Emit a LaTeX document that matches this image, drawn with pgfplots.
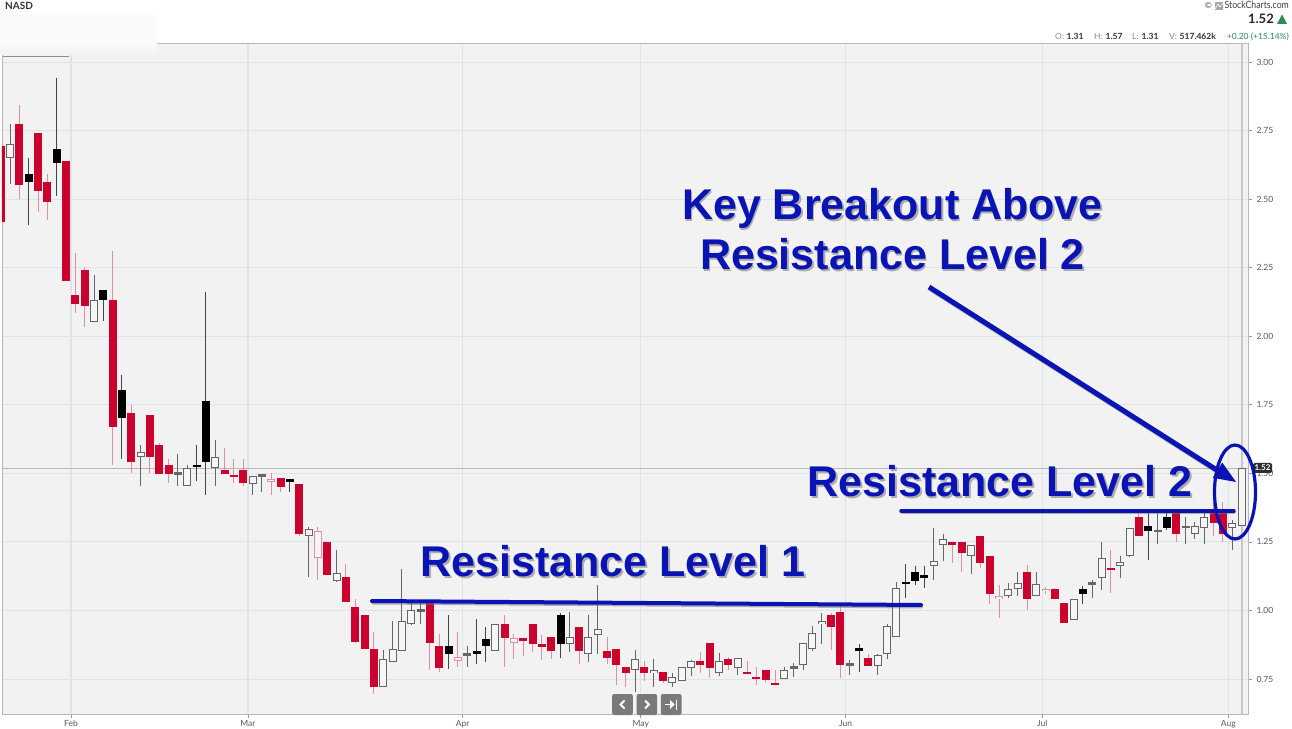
\documentclass[border=0pt]{standalone}
\usepackage{fontspec}
\usepackage{pgfplots}
\usepackage{pgfplotstable}
\pgfplotsset{compat=1.18}
\setmainfont{Lato}
\newfontfamily\ann{Liberation Sans}
\definecolor{bg}{HTML}{F2F2F2}
\definecolor{gridc}{HTML}{DFE3EA}
\definecolor{redb}{HTML}{CC002D}
\definecolor{redw}{HTML}{E88CA0}
\definecolor{blackw}{HTML}{444444}
\definecolor{whitew}{HTML}{666666}
\definecolor{hollow}{HTML}{F6F6F6}
\definecolor{lbl}{HTML}{55596A}
\definecolor{annb}{HTML}{0A14B4}
\definecolor{grn}{HTML}{2E8B57}
\pgfplotstableread{
i low high bot top
0 2.418 2.693 2.418 2.693
2 2.501 2.842 2.551 2.773
4 2.453 2.742 2.529 2.742
5 2.422 2.590 2.490 2.561
7 2.200 2.640 2.200 2.640
8 2.083 2.304 2.119 2.152
9 2.033 2.253 2.109 2.242
12 1.532 2.311 1.669 2.133
14 1.501 1.748 1.540 1.720
16 1.501 1.712 1.560 1.712
17 1.499 1.611 1.499 1.602
18 1.464 1.554 1.496 1.530
24 1.499 1.592 1.499 1.511
25 1.464 1.554 1.490 1.492
26 1.453 1.554 1.464 1.513
30 1.432 1.482 1.449 1.482
32 1.273 1.461 1.279 1.461
35 1.129 1.250 1.131 1.250
37 1.030 1.170 1.030 1.121
38 0.881 1.041 0.885 1.012
39 0.859 0.982 0.859 0.982
40 0.695 0.921 0.722 0.859
46 0.784 1.033 0.881 1.033
47 0.775 0.914 0.791 0.870
54 0.794 0.982 0.900 0.951
56 0.833 0.898 0.891 0.898
57 0.847 0.951 0.876 0.951
58 0.818 0.911 0.871 0.875
59 0.823 0.902 0.851 0.902
62 0.803 0.941 0.851 0.941
65 0.803 0.902 0.826 0.852
66 0.729 0.859 0.800 0.859
67 0.721 0.793 0.772 0.793
69 0.743 0.816 0.772 0.793
71 0.735 0.776 0.741 0.776
75 0.772 0.848 0.802 0.816
76 0.752 0.880 0.791 0.880
78 0.782 0.830 0.802 0.822
80 0.771 0.816 0.771 0.773
81 0.729 0.793 0.751 0.755
82 0.739 0.782 0.746 0.782
83 0.730 0.784 0.730 0.735
89 0.854 0.991 0.940 0.982
90 0.755 1.018 0.802 0.993
93 0.796 0.841 0.796 0.827
102 1.172 1.248 1.242 1.248
103 1.142 1.249 1.210 1.249
105 1.153 1.271 1.172 1.271
106 1.023 1.200 1.059 1.200
110 1.001 1.164 1.040 1.140
113 1.040 1.083 1.040 1.079
114 0.956 1.029 0.956 1.029
119 1.062 1.221 1.150 1.154
122 1.271 1.367 1.271 1.340
126 1.251 1.363 1.278 1.354
130 1.272 1.397 1.320 1.354
131 1.250 1.397 1.278 1.354
}\tblR
\pgfplotstableread{
i low high bot top
3 2.404 2.651 2.562 2.590
6 2.513 2.943 2.631 2.682
11 2.055 2.170 2.131 2.170
13 1.554 1.860 1.700 1.803
21 1.471 1.602 1.523 1.529
22 1.422 2.162 1.540 1.762
31 1.432 1.481 1.470 1.481
48 0.786 0.982 0.841 0.870
51 0.803 0.970 0.841 0.852
52 0.813 0.938 0.870 0.897
60 0.825 0.990 0.876 0.982
92 0.774 0.878 0.855 0.860
97 1.045 1.170 1.098 1.102
98 1.091 1.163 1.109 1.140
99 1.081 1.163 1.120 1.131
116 1.023 1.090 1.061 1.079
123 1.183 1.354 1.290 1.308
125 1.294 1.354 1.300 1.340
}\tblK
\pgfplotstableread{
i low high bot top
29 1.422 1.501 1.470 1.479
34 1.112 1.303 1.192 1.290
49 0.794 0.921 0.817 0.829
55 0.823 0.914 0.882 0.900
107 0.972 1.091 1.040 1.052
112 1.061 1.087 1.070 1.080
}\tblP
\pgfplotstableread{
i low high bot top
1 2.554 2.773 2.650 2.700
10 2.051 2.223 2.051 2.131
15 1.453 1.602 1.561 1.579
19 1.453 1.572 1.499 1.501
20 1.453 1.530 1.455 1.521
23 1.453 1.623 1.521 1.561
27 1.422 1.492 1.462 1.492
28 1.432 1.493 1.491 1.493
33 1.121 1.303 1.271 1.296
36 1.103 1.221 1.109 1.138
41 0.720 0.857 0.720 0.823
42 0.811 0.962 0.811 0.860
43 0.851 1.152 0.851 0.962
44 0.947 1.027 0.950 1.000
45 0.951 1.033 0.999 1.000
50 0.794 0.869 0.839 0.841
53 0.851 0.951 0.851 0.951
61 0.847 0.993 0.876 0.902
63 0.813 0.982 0.841 0.902
64 0.842 1.091 0.911 0.931
68 0.702 0.854 0.782 0.822
70 0.720 0.823 0.772 0.782
72 0.720 0.772 0.737 0.759
73 0.741 0.793 0.741 0.793
74 0.762 0.821 0.789 0.816
77 0.762 0.845 0.772 0.816
79 0.765 0.828 0.791 0.828
84 0.750 0.793 0.750 0.782
85 0.757 0.807 0.790 0.793
86 0.782 0.883 0.802 0.883
87 0.852 0.945 0.860 0.918
88 0.877 0.991 0.950 0.962
91 0.763 0.818 0.801 0.804
94 0.763 0.841 0.796 0.839
95 0.823 0.949 0.840 0.944
96 0.902 1.104 0.902 1.082
100 1.112 1.300 1.161 1.181
101 1.181 1.279 1.240 1.260
104 1.133 1.240 1.199 1.240
108 1.044 1.100 1.051 1.079
109 1.051 1.140 1.078 1.101
111 1.052 1.140 1.052 1.096
115 0.964 1.040 0.964 1.040
117 1.045 1.112 1.096 1.102
118 1.073 1.250 1.120 1.192
120 1.120 1.199 1.161 1.175
121 1.195 1.301 1.199 1.301
124 1.243 1.354 1.289 1.291
127 1.243 1.340 1.302 1.308
128 1.261 1.324 1.278 1.308
129 1.243 1.354 1.301 1.340
132 1.221 1.330 1.301 1.320
133 1.308 1.521 1.308 1.521
}\tblW
% wick: table, colour
\newcommand\wicks[2]{\addplot[forget plot,draw=none,mark=none,error bars/.cd,y dir=both,y explicit,error mark=none,error bar style={draw=#2,line width=1pt}] table[x=i,y=top,y error plus expr={\thisrow{high}-\thisrow{top}},y error minus expr={\thisrow{top}-\thisrow{low}}] {#1};}
% body: table, colour, width
\newcommand\bodies[3]{\addplot[forget plot,draw=none,mark=none,error bars/.cd,y dir=both,y explicit,error mark=none,error bar style={draw=#2,line width=#3}] table[x=i,y expr={0.5*(\thisrow{top}+\thisrow{bot})},y error expr={max(0.5*(\thisrow{top}-\thisrow{bot}),0.0045)}] {#1};}
% hollow interior: table
\newcommand\inner[1]{\addplot[forget plot,draw=none,mark=none,error bars/.cd,y dir=both,y explicit,error mark=none,error bar style={draw=hollow,line width=6pt}] table[x=i,y expr={0.5*(\thisrow{top}+\thisrow{bot})},y error expr={max(0.5*(\thisrow{top}-\thisrow{bot})-0.0036,0)}] {#1};}
\begin{document}
\begin{tikzpicture}[x=1pt,y=1pt]
\fill[white] (0,0) rectangle (1292,728);
\useasboundingbox (0,0) rectangle (1292,728);
\begin{axis}[
  at={(2pt,14pt)},anchor=south west,
  scale only axis,width=1246pt,height=671pt,
  xmin=0.139,xmax=133.69,ymin=0.6224,ymax=3.0693,
  axis background/.style={fill=bg},
  axis line style={draw=black!28,line width=0.9pt},
  xtick={7.53,26.5,49.52,68.6,90.57,111.64,131.58},
  xticklabels={Feb,Mar,Apr,May,Jun,Jul,Aug},
  ytick={0.75,1,1.25,1.5,1.75,2,2.25,2.5,2.75,3},
  xtick pos=bottom,ytick pos=right,
  tick align=outside,tickwidth=4pt,
  tick style={draw=black!40,line width=0.6pt},
  ticklabel style={font=\fontsize{8.5}{10}\selectfont,text=lbl},
  xticklabel style={yshift=1pt},
  yticklabel style={/pgf/number format/fixed,/pgf/number format/fixed zerofill,/pgf/number format/precision=2,/pgf/number format/assume math mode=true,xshift=1pt},
  xmajorgrids,ymajorgrids,
  x grid style={draw=gridc,line width=1.4pt},
  y grid style={draw=gridc,line width=0.9pt},
]
\addplot[forget plot,draw=black!28,line width=0.7pt] coordinates {(0.139,1.52)(133.69,1.52)};
\addplot[forget plot,draw=black!22,line width=2pt] coordinates {(133.05,0.6224)(133.05,3.0693)};
\wicks{\tblR}{redw}
\wicks{\tblP}{redw}
\wicks{\tblK}{blackw}
\wicks{\tblW}{whitew}
\bodies{\tblR}{redb}{8pt}
\bodies{\tblK}{black}{8pt}
\bodies{\tblW}{whitew}{8pt}
\inner{\tblW}
\bodies{\tblP}{redw}{8pt}
\inner{\tblP}
\end{axis}
% blurred-out patch at the top left
\fill[black!2] (0,713) rectangle (157,685);
\shade[top color=black!2,bottom color=bg] (0,685) rectangle (157,673);
\fill[white] (0,728) rectangle (157,713);
\draw[black!45,line width=0.8pt] (3,672) -- (69,672);
% header
\begin{scope}[every node/.append style={inner sep=0pt}]
\node[anchor=base west,font=\fontsize{10}{12}\selectfont\bfseries,text=black!80] at (5,718.5) {NASD};
\node[anchor=base east,font=\fontsize{10}{12}\selectfont,text=black!75,xscale=.87,transform shape] at (1289,719) {StockCharts.com};
\node[anchor=base,font=\fontsize{8.5}{10}\selectfont,text=black!70] at (1208.5,719) {©};
\fill[black!35] (1214.5,717.5) rectangle (1223,726);
\draw[white,line width=0.6pt] (1215,719) -- (1218,724) -- (1220,721) -- (1223,725);
\node[anchor=base east,font=\fontsize{13}{14}\selectfont\bfseries,text=black!85] at (1274,704) {1.52};
\fill[grn] (1277,704) -- (1287,704) -- (1282,713.5) -- cycle;
\begin{scope}[font=\fontsize{8.5}{10}\selectfont]
\node[anchor=base west,text=black!45] at (1055,688.5) {O:};
\node[anchor=base west,text=black!80] at (1066.5,688.5) {\bfseries 1.31};
\node[anchor=base west,text=black!45] at (1094,688.5) {H:};
\node[anchor=base west,text=black!80] at (1105.5,688.5) {\bfseries 1.57};
\node[anchor=base west,text=black!45] at (1132,688.5) {L:};
\node[anchor=base west,text=black!80] at (1141.5,688.5) {\bfseries 1.31};
\node[anchor=base west,text=black!45] at (1169,688.5) {V:};
\node[anchor=base west,text=black!80] at (1179.5,688.5) {\bfseries 517.462k};
\node[anchor=base east,text=grn] at (1289,688.5) {+0.20 (+15.14\%)};
\end{scope}
\end{scope}
% last price tag
\fill[black!82,rounded corners=1.5pt] (1253,255) rectangle (1272,265);
\node[font=\fontsize{8}{9}\selectfont\bfseries,text=white] at (1262.5,260) {1.52};
% navigation buttons
\foreach \cx in {622.5,646.8,671.2}{\fill[black!52,rounded corners=2pt] (\cx-10.3,13) rectangle (\cx+10.3,34);}
\draw[white,line width=1.8pt] (624.5,27.5) -- (620.5,23.5) -- (624.5,19.5);
\draw[white,line width=1.8pt] (645,27.5) -- (649,23.5) -- (645,19.5);
\draw[white,line width=1.6pt] (665,23.5) -- (673,23.5);
\fill[white] (674.5,23.5) -- (670,28) -- (670,19) -- cycle;
\draw[white,line width=1.6pt] (676.5,28.5) -- (676.5,18.5);
% annotation shadows
\begin{scope}[black!55,opacity=.55]
\draw[line width=4pt,line cap=round] (373,125.5) -- (921,121.5);
\draw[line width=3.5pt,line cap=round] (902,215.5) -- (1234,215.5);
\draw[line width=5pt] (930,439.5) -- (1221,254.5);
\foreach \tx/\ty/\tt in {892.5/508/{Key Breakout Above},892.5/458/{Resistance Level 2},1000/231/{Resistance Level 2},613/151/{Resistance Level 1}}
  \node[anchor=base,font=\ann\fontsize{43}{46}\selectfont\bfseries] at (\tx+1.6,\ty-1.6) {\tt};
\end{scope}
% annotations
\begin{scope}[annb]
\draw[line width=4pt,line cap=round] (372,127) -- (921,123);
\draw[line width=3.5pt,line cap=round] (901,217) -- (1234,217);
\draw[line width=5pt] (929,441) -- (1220,256);
\fill (1236,246) -- (1222.3,265.4) -- (1212.7,250.2) -- cycle;
\draw[line width=3.2pt] (1235,236) ellipse [x radius=20.5,y radius=47];
\foreach \tx/\ty/\tt in {892.5/508/{Key Breakout Above},892.5/458/{Resistance Level 2},1000/231/{Resistance Level 2},613/151/{Resistance Level 1}}
  \node[anchor=base,text=annb,font=\ann\fontsize{43}{46}\selectfont\bfseries] at (\tx,\ty) {\tt};
\end{scope}
\end{tikzpicture}
\end{document}
